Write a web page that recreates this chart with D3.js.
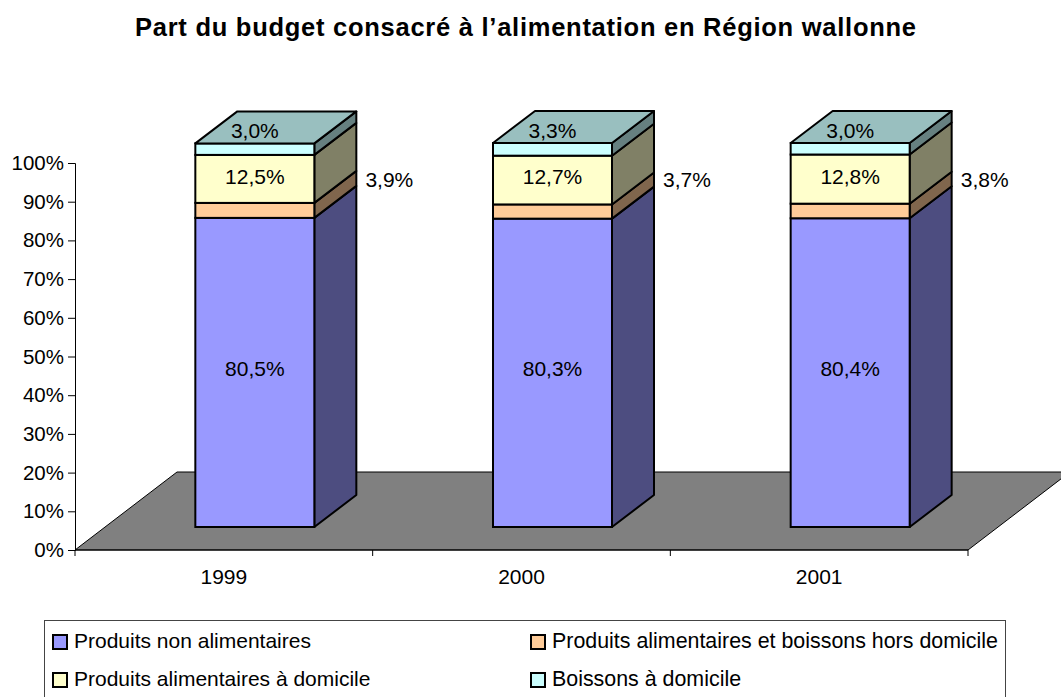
<!DOCTYPE html>
<html>
<head>
<meta charset="utf-8">
<script src="https://d3js.org/d3.v7.min.js"></script>
<style>
  html, body { margin: 0; padding: 0; background: #fff; overflow: hidden; }
  text { font-family: "Liberation Sans", Arial, sans-serif; fill: #000; }
</style>
</head>
<body>
<svg id="chart" width="1061" height="697"></svg>
<script>
// Values, in percent
const years = ['1999', '2000', '2001'];
const seriesNames = [
  'Produits non alimentaires',
  'Produits alimentaires et boissons hors domicile',
  'Produits alimentaires à domicile',
  'Boissons à domicile'
];
const nonAlim = [80.5, 80.3, 80.4];
const horsDomicile = [3.9, 3.7, 3.8];
const aDomicile = [12.5, 12.7, 12.8];
const boissons = [3.0, 3.3, 3.0];
const frontColors = ['#9999ff', '#ffcc99', '#ffffcc', '#ccffff'];
const sideColors = ['#4d4d80', '#80664d', '#808066', '#668080'];
const topColor = '#99bfbf';
const yTicks = [0, 10, 20, 30, 40, 50, 60, 70, 80, 90, 100];

const svg = d3.select('#chart');

const axisX0 = 75, axisX1 = 968, axisBottom = 550, axisTop = 163;
const floorDx = 102, floorDy = -78;
const barDx = 42, barDy = -32;
const barOffsetX = 31, barBaseY = 527, barHeight = 384;
const fontSize = 21;

const x = d3.scaleBand().domain(years).range([axisX0, axisX1]).paddingInner(0).paddingOuter(0);
const y = d3.scaleLinear().domain([0, 100]).range([axisBottom, axisTop]);
const barY = d3.scaleLinear().domain([0, 100]).range([barBaseY, barBaseY - barHeight]);
const barWidth = 119;

const poly = pts => pts.map(p => p.join(',')).join(' ');

// Title
svg.append('text')
  .attr('x', 135).attr('y', 36)
  .attr('textLength', 781).attr('lengthAdjust', 'spacing')
  .attr('font-size', 25.5).attr('font-weight', 'bold')
  .text('Part du budget consacré à l’alimentation en Région wallonne');

// Floor
svg.append('polygon')
  .attr('points', poly([
    [axisX0, axisBottom], [axisX1, axisBottom],
    [axisX1 + floorDx, axisBottom + floorDy], [axisX0 + floorDx, axisBottom + floorDy]
  ]))
  .attr('fill', '#808080').attr('stroke', '#000').attr('stroke-width', 1);

// Axes
const yAxis = d3.axisLeft(y).tickValues(yTicks).tickFormat(d => d + '%').tickSize(7).tickPadding(4);
const gy = svg.append('g').attr('transform', `translate(${axisX0},0)`).call(yAxis);
gy.selectAll('text').attr('font-size', 20.5).attr('font-family', '"Liberation Sans", Arial, sans-serif');

const xAxis = d3.axisBottom(x).tickSize(0).tickPadding(19);
const gx = svg.append('g').attr('transform', `translate(0,${axisBottom})`).call(xAxis);
gx.selectAll('text').attr('font-size', fontSize).attr('font-family', '"Liberation Sans", Arial, sans-serif');
gx.selectAll('.domain').remove();
svg.append('line').attr('x1', axisX0).attr('x2', axisX1).attr('y1', axisBottom).attr('y2', axisBottom).attr('stroke', '#000');
gx.selectAll('.cat-tick')
  .data([axisX0, axisX0 + x.step(), axisX0 + 2 * x.step(), axisX1])
  .enter().append('line')
  .attr('x1', d => d).attr('x2', d => d)
  .attr('y1', 0).attr('y2', 6)
  .attr('stroke', '#000');

// Stacked bars with fake depth
const stackValues = [nonAlim, horsDomicile, aDomicile, boissons];
years.forEach((year, i) => {
  const left = x(year) + (x.step() - barWidth) / 2 + barOffsetX;
  const right = left + barWidth;
  const g = svg.append('g');
  let cum = 0;
  stackValues.forEach((vals, s) => {
    const y0 = barY(cum), y1 = barY(cum + vals[i]);
    cum += vals[i];
    g.append('polygon')
      .attr('points', poly([[right, y0], [right + barDx, y0 + barDy], [right + barDx, y1 + barDy], [right, y1]]))
      .attr('fill', sideColors[s]).attr('stroke', '#000').attr('stroke-width', 2).attr('stroke-linejoin', 'round');
    g.append('rect')
      .attr('x', left).attr('y', y1)
      .attr('width', barWidth).attr('height', y0 - y1)
      .attr('fill', frontColors[s]).attr('stroke', '#000').attr('stroke-width', 2);
  });
  const topY = barY(cum);
  g.append('polygon')
    .attr('points', poly([[left, topY], [right, topY], [right + barDx, topY + barDy], [left + barDx, topY + barDy]]))
    .attr('fill', topColor).attr('stroke', '#000').attr('stroke-width', 2).attr('stroke-linejoin', 'round');

  // Data labels
  const label = (tx, ty, v) => g.append('text')
    .attr('x', tx).attr('y', ty).attr('text-anchor', 'middle')
    .attr('font-size', fontSize)
    .text(v.toFixed(1).replace('.', ',') + '%');
  label((left + right) / 2, 376, nonAlim[i]);
  label(right + 75, 187, horsDomicile[i]);
  label((left + right) / 2, 183.5, aDomicile[i]);
  label((left + right) / 2, 137.5, boissons[i]);
});

// Legend, its bottom edge runs off the picture
svg.append('rect')
  .attr('x', 44.5).attr('y', 620.5).attr('width', 961).attr('height', 85)
  .attr('fill', '#fff').attr('stroke', '#444');

const legendCols = [53, 531];
const legendFonts = [21, 21.4];
const legendRows = [642, 680];
seriesNames.forEach((name, i) => {
  const lx = legendCols[i % 2], ly = legendRows[Math.floor(i / 2)];
  svg.append('rect')
    .attr('x', lx).attr('y', ly - 7).attr('width', 14).attr('height', 14)
    .attr('fill', frontColors[i]).attr('stroke', '#000').attr('stroke-width', 2);
  svg.append('text')
    .attr('x', lx + 21).attr('y', ly + 5.5)
    .attr('font-size', legendFonts[i % 2])
    .text(name);
});
</script>
</body>
</html>
